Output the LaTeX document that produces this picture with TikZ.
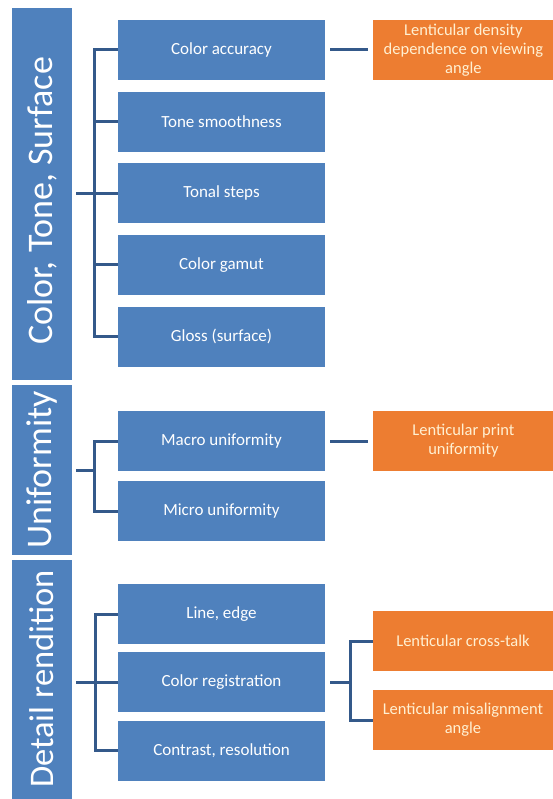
\documentclass[tikz,border=0pt]{standalone}
\usepackage{fontspec}
\setmainfont{Carlito}
\usetikzlibrary{positioning}

\definecolor{boxblue}{HTML}{4F81BD}
\definecolor{linkblue}{HTML}{34598A}
\definecolor{boxorange}{HTML}{ED7D31}
\definecolor{textcream}{HTML}{FFF0D2}

\tikzset{
  bar/.style={fill=boxblue, minimum width=60pt, inner sep=0pt},
  bartext/.style={rotate=90, text=white, inner sep=0pt, font=\fontsize{36}{40}\selectfont},
  item/.style={fill=boxblue, text=white, minimum width=207pt, minimum height=60pt, inner sep=0pt, font=\fontsize{17}{19}\selectfont},
  effect/.style={fill=boxorange, text=textcream, minimum width=180pt, minimum height=60pt, inner sep=0pt, align=center, font=\fontsize{16.5}{19}\selectfont},
  link/.style={draw=linkblue, line width=3pt},
}

\begin{document}
\begin{tikzpicture}[x=1pt, y=-1pt]
      \useasboundingbox (0,0) rectangle (552,799);

      % Category bars
      \node[bar, minimum height=372pt] (cts) at (42,194) {};
      \node[bartext] (ctsL) at (42,201) {Color, Tone, Surface};
      \node[bar, minimum height=170pt] (uni) at (42,470) {};
      \node[bartext] (uniL) at (42,470) {Uniformity};
      \node[bar, minimum height=244pt] (det) at (42,682) {};
      \node[bartext, font=\fontsize{34.5}{40}\selectfont] (detL) at (42,679) {Detail rendition};

      % Color, tone, surface
      \node[item] (acc) at (221.5,50) {Color accuracy};
      \node[item, below=11.25pt of acc] (smo) {Tone smoothness};
      \node[item, below=11.25pt of smo] (steps) {Tonal steps};
      \node[item, below=11.25pt of steps] (gamut) {Color gamut};
      \node[item, below=11.25pt of gamut] (gloss) {Gloss (surface)};

      % Uniformity
      \node[item] (macro) at (221.5,441) {Macro uniformity};
      \node[item, below=10pt of macro] (micro) {Micro uniformity};

      % Detail rendition
      \node[item] (edge) at (221.5,614) {Line, edge};
      \node[item, below=8pt of edge] (reg) {Color registration};
      \node[item, below=8pt of reg] (contr) {Contrast, resolution};

      % Lenticular effects
      \node[effect, right=48pt of acc] (dens) {Lenticular density\\dependence on viewing\\angle};
      \node[effect, right=48pt of macro] (print) {Lenticular print\\uniformity};
      \node[effect] (cross) at (463,641) {Lenticular cross-talk};
      \node[effect] (mis) at (463,720) {Lenticular misalignment\\angle};

      % Brackets
      \coordinate (ctsJ) at ([xshift=22pt]cts.east);
      \draw[link] ([xshift=4pt]cts.east) -- (ctsJ);
      \foreach \c in {acc,smo,steps,gamut,gloss}
        \draw[link] (ctsJ) |- (\c.west);

      \coordinate (uniJ) at ([xshift=22pt]uni.east);
      \draw[link] ([xshift=4pt]uni.east) -- (uniJ);
      \foreach \c in {macro,micro}
        \draw[link] (uniJ) |- (\c.west);

      \coordinate (detJ) at ([xshift=23pt]det.east);
      \draw[link] ([xshift=4pt]det.east) -- (detJ);
      \foreach \c in {edge,reg,contr}
        \draw[link] (detJ) |- (\c.west);

      \draw[link, shorten <=5pt, shorten >=5pt] (acc) -- (dens);
      \draw[link, shorten <=5pt, shorten >=5pt] (macro) -- (print);

      \coordinate (regJ) at ([xshift=25pt]reg.east);
      \draw[link] ([xshift=5pt]reg.east) -- (regJ);
      \foreach \c in {cross,mis}
        \draw[link] (regJ) |- (\c.west);
    \end{tikzpicture}
\end{document}
